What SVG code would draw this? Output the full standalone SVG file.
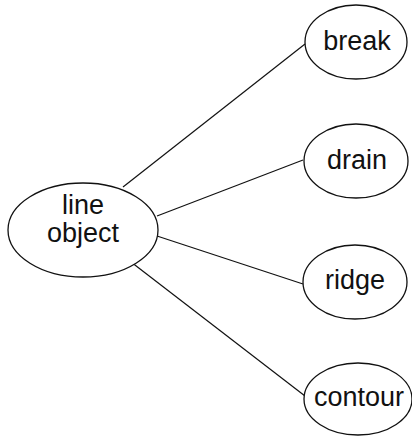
<svg xmlns="http://www.w3.org/2000/svg" width="412" height="436" viewBox="0 0 412 436">
<style>
.n{fill:#fff;stroke:#111;stroke-width:1.3}
.t{font-family:"Liberation Sans",Arial,sans-serif;font-size:27px;fill:#111;text-anchor:middle}
.c{stroke:#111;stroke-width:1.2;fill:none}
</style>
<rect width="412" height="436" fill="#fff"/>
<g id="connectors">
<line class="c" x1="123" y1="187" x2="305" y2="44"/>
<line class="c" x1="157" y1="216" x2="303" y2="160"/>
<line class="c" x1="157" y1="236" x2="303" y2="284"/>
<line class="c" x1="131" y1="262" x2="305" y2="396"/>
</g>
<g id="line-object">
<ellipse class="n" cx="83" cy="230" rx="75" ry="47"/>
<text class="t" x="83" y="214">line</text>
<text class="t" x="83" y="242">object</text>
</g>
<g id="break">
<ellipse class="n" cx="356" cy="42" rx="51" ry="37"/>
<text class="t" x="357" y="50">break</text>
</g>
<g id="drain">
<ellipse class="n" cx="356" cy="161" rx="52" ry="37"/>
<text class="t" x="357" y="169">drain</text>
</g>
<g id="ridge">
<ellipse class="n" cx="355" cy="282" rx="52" ry="37"/>
<text class="t" x="355" y="289">ridge</text>
</g>
<g id="contour">
<ellipse class="n" cx="358" cy="399" rx="54" ry="36"/>
<text class="t" x="359" y="406">contour</text>
</g>
</svg>
